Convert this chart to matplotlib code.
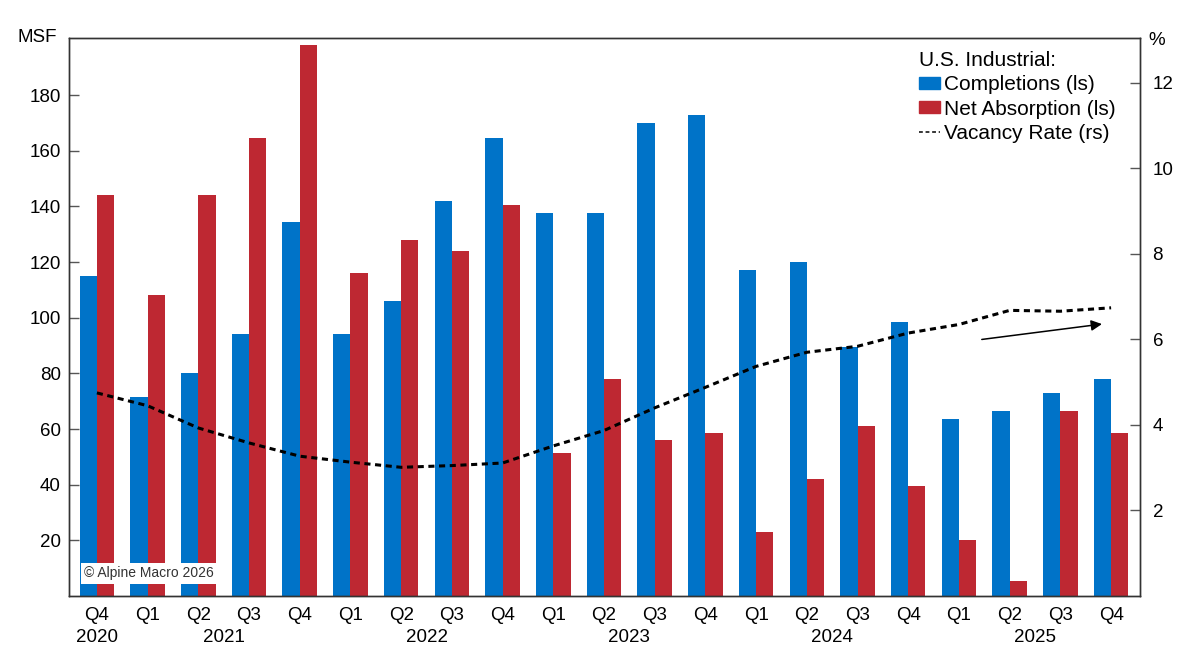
import numpy as np
import pandas as pd
import matplotlib
matplotlib.use("Agg")
import matplotlib.pyplot as plt
from matplotlib.patches import Patch
from matplotlib.lines import Line2D

# --------------------------
# Data
# --------------------------
quarters = ["Q4", "Q1", "Q2", "Q3", "Q4", "Q1", "Q2", "Q3", "Q4", "Q1", "Q2",
            "Q3", "Q4", "Q1", "Q2", "Q3", "Q4", "Q1", "Q2", "Q3", "Q4"]
quarter_years = ["2020"] + ["2021"] * 4 + ["2022"] * 4 + ["2023"] * 4 + \
                ["2024"] * 4 + ["2025"] * 4

completions = [115, 71.5, 80, 94, 134.5, 94, 106, 142, 164.5, 137.5, 137.5,
               170, 173, 117, 120, 89.5, 98.5, 63.5, 66.5, 73, 78]
net_absorption = [144, 108, 144, 164.5, 198, 116, 128, 124, 140.5, 51.5, 78,
                  56, 58.5, 23, 42, 61, 39.5, 20, 5.5, 66.5, 58.5]
vacancy_rate = [4.75, 4.45, 3.93, 3.58, 3.27, 3.13, 3.01, 3.05, 3.11, 3.51, 3.87,
                4.40, 4.88, 5.37, 5.70, 5.84, 6.15, 6.35, 6.68, 6.66, 6.74]

BLUE = "#0073C8"
RED = "#BE2832"

plt.rcParams["font.family"] = ["Liberation Sans", "DejaVu Sans"]

# --------------------------
# Plot
# --------------------------
fig = plt.figure(figsize=(11.93, 6.67), dpi=100)
ax = fig.add_axes([69 / 1193, 71 / 667, 1071 / 1193, 558 / 667])
ax2 = ax.twinx()

x = np.arange(len(quarters))
w = 0.34
ax.bar(x - w, completions, width=w, align="edge", color=BLUE, zorder=2)
ax.bar(x, net_absorption, width=w, align="edge", color=RED, zorder=2)

ax2.plot(x, vacancy_rate, color="black", lw=2.2, linestyle=(0, (2.0, 1.5)))

ax.set_xlim(-0.55, 20.57)
ax.set_ylim(0, 200.5)
ax2.set_ylim(0, 13.05)

ax.set_yticks(range(20, 181, 20))
ax2.set_yticks(range(2, 13, 2))
ax.set_xticks(x)
ax.set_xticklabels(quarters)

for a in (ax, ax2):
    for s in a.spines.values():
        s.set_color("#333333")
        s.set_linewidth(1.0)
ax.tick_params(axis="y", direction="in", length=7, width=1, color="#555555",
               labelsize=13.5, pad=6)
ax.tick_params(axis="x", direction="in", length=6, width=1, color="#222222",
               labelsize=13.5, pad=8)
ax2.tick_params(axis="y", direction="in", length=7, width=1, color="#555555",
                labelsize=13.5, pad=9)

# year labels centred under their quarters
yr = pd.DataFrame({"year": quarter_years, "pos": x}).groupby("year")["pos"].mean()
for year, pos in yr.items():
    ax.text(pos, -0.074, year, transform=ax.get_xaxis_transform(),
            ha="center", va="center", fontsize=13.5)

ax.text(-0.011, 1.0, "MSF", transform=ax.transAxes, ha="right", va="center",
        fontsize=13.5)
ax2.text(1.016, 0.996, "%", transform=ax2.transAxes, ha="center", va="center",
         fontsize=13.5)

ax.text(0.014, 0.041, "\u00a9 Alpine Macro 2026", transform=ax.transAxes,
        ha="left", va="center", fontsize=10, color="#333333", zorder=5,
        bbox=dict(facecolor="white", edgecolor="none", pad=2.5))

ax2.annotate("", xy=(19.82, 6.36), xytext=(17.45, 6.0),
             arrowprops=dict(arrowstyle="-|>", color="black", lw=1.1,
                             mutation_scale=16, shrinkA=0, shrinkB=0))

handles = [Patch(color=BLUE), Patch(color=RED),
           Line2D([], [], color="black", lw=1.1, linestyle=(0, (2.5, 1.8)))]
labels = ["Completions (ls)", "Net Absorption (ls)", "Vacancy Rate (rs)"]
leg = ax2.legend(handles, labels, title="U.S. Industrial:", loc="upper left",
                 bbox_to_anchor=(0.794, 0.977), frameon=False, fontsize=15,
                 title_fontsize=15, borderpad=0, borderaxespad=0,
                 handlelength=1.0, handleheight=0.5, handletextpad=0.2,
                 labelspacing=0.26, alignment="left")

fig.savefig("out.png", dpi=100)
